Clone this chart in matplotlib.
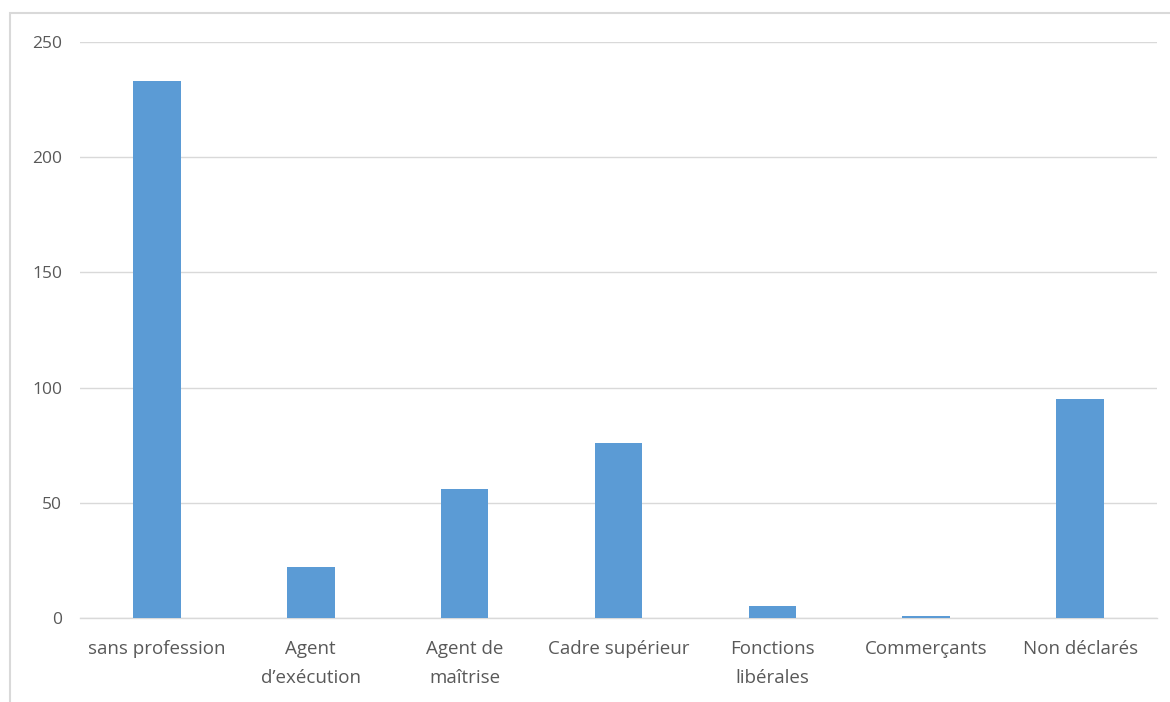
import matplotlib
matplotlib.use('Agg')
from matplotlib import pyplot
from matplotlib.patches import Rectangle

categories = ['sans profession', 'Agent\nd\u2019ex\u00e9cution', 'Agent de\nma\u00eetrise',
              'Cadre sup\u00e9rieur', 'Fonctions\nlib\u00e9rales', 'Commer\u00e7ants', 'Non d\u00e9clar\u00e9s']
values = [233, 22, 56, 76, 5, 1, 95]
y_ticks = [0, 50, 100, 150, 200, 250]

pyplot.rcParams['font.family'] = ['Open Sans', 'DejaVu Sans']

fig = pyplot.figure(figsize=(11.7, 7.02), dpi=100)
W, H = 1170, 702
ax = fig.add_axes([80 / W, (H - 618) / H, (1157 - 80) / W, (618 - 42) / H])

x = list(range(len(categories)))
ax.bar(x, values, width=0.31, color='#5b9bd5', zorder=3)

ax.set_xlim(-0.5, len(categories) - 0.5)
ax.set_ylim(0, 250)
ax.set_yticks(y_ticks)
ax.set_xticks(x)
ax.set_xticklabels(categories, linespacing=1.75)
ax.yaxis.grid(True, color='#d9d9d9', linewidth=1, zorder=0)
for side in ['top', 'right', 'left']:
    ax.spines[side].set_visible(False)
ax.spines['bottom'].set_color('#d9d9d9')
ax.spines['bottom'].set_linewidth(1)
ax.tick_params(axis='both', length=0, labelcolor='#595959')
ax.tick_params(axis='x', labelsize=13.5, pad=16)
ax.tick_params(axis='y', labelsize=12.5, pad=13)

# chart border, cut at right and bottom
fig.patches.append(Rectangle((10 / W, -0.1), 1.2, (H - 13) / H + 0.1, transform=fig.transFigure,
                             fill=False, edgecolor='#d9d9d9', linewidth=1.5))

fig.savefig('out.png', dpi=100)
pyplot.close()
